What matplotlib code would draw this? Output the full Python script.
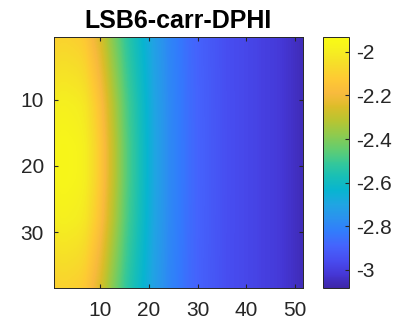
import matplotlib.pyplot as plt
import numpy as np
from matplotlib.colors import LinearSegmentedColormap

plt.rcParams['font.family'] = ['Liberation Sans', 'DejaVu Sans']

# column profile along the middle row (cols 1..51)
col_vals = [-1.97, -1.96, -1.96, -1.965, -1.97, -1.98, -2.0, -2.04, -2.08, -2.13,
            -2.19, -2.26, -2.32, -2.38, -2.44, -2.49, -2.53, -2.57, -2.61, -2.65,
            -2.69, -2.72, -2.75, -2.78, -2.80, -2.82, -2.84, -2.86, -2.875, -2.89,
            -2.90, -2.91, -2.92, -2.93, -2.94, -2.95, -2.955, -2.96, -2.965, -2.97,
            -2.975, -2.98, -2.99, -2.995, -3.0, -3.005, -3.015, -3.025, -3.035, -3.045,
            -3.055]
# how strongly each column feels the row offset
col_weight = [1.0, 1.0, 1.0, 1.0, 1.0, 1.0, 1.0, 1.0, 1.0, 0.95,
              0.9, 0.8, 0.7, 0.6, 0.5, 0.42, 0.35, 0.3, 0.25, 0.2,
              0.17, 0.14, 0.12, 0.1, 0.08, 0.07, 0.06, 0.05, 0.04, 0.03,
              0.03, 0.02, 0.02, 0.02, 0.01, 0.01, 0.01, 0.01, 0.0, 0.0,
              0.0, 0.0, 0.0, 0.0, 0.0, 0.0, 0.0, 0.0, 0.0, 0.0,
              0.0]
# row offsets (rows 1..38)
row_offset = [-0.13, -0.12, -0.11, -0.10, -0.09, -0.08, -0.07, -0.06, -0.05, -0.04,
              -0.03, -0.025, -0.02, -0.015, -0.01, -0.005, -0.002, 0.0, 0.0, 0.0,
              0.0, -0.002, -0.005, -0.01, -0.015, -0.02, -0.025, -0.03, -0.04, -0.05,
              -0.06, -0.07, -0.08, -0.09, -0.10, -0.11, -0.12, -0.13]

x_ticks = [10, 20, 30, 40, 50]
y_ticks = [10, 20, 30]
cb_ticks = [-3, -2.8, -2.6, -2.4, -2.2, -2]
cb_labels = ['-3', '-2.8', '-2.6', '-2.4', '-2.2', '-2']

data = np.array(col_vals)[None, :] + np.array(row_offset)[:, None] * np.array(col_weight)[None, :]

parula = LinearSegmentedColormap.from_list('parula', [
    (0.2422, 0.1504, 0.6603), (0.2706, 0.2147, 0.8364), (0.2813, 0.3006, 0.9414),
    (0.2699, 0.3892, 0.9906), (0.1963, 0.4847, 0.9892), (0.1687, 0.5703, 0.9359),
    (0.1248, 0.6459, 0.8883), (0.0297, 0.7082, 0.8163), (0.0964, 0.7500, 0.7120),
    (0.2161, 0.7843, 0.5923), (0.3909, 0.8029, 0.4354), (0.5616, 0.7942, 0.3045),
    (0.7242, 0.7698, 0.1910), (0.8634, 0.7406, 0.1596), (0.9728, 0.7298, 0.2394),
    (0.9952, 0.7893, 0.2028), (0.9676, 0.8639, 0.1643), (0.9628, 0.9373, 0.1265),
    (0.9769, 0.9839, 0.0805)])

fig = plt.figure(figsize=(3.96, 3.2), dpi=100)
ax = fig.add_axes([53.5/396, 31.7/320, 249/396, 251.6/320])
cax = fig.add_axes([323.3/396, 31.7/320, 26/396, 251.6/320])

im = ax.imshow(data, cmap=parula, vmin=-3.084, vmax=-1.931, aspect='auto',
               extent=[0.5, 51.5, 38.5, 0.5], interpolation='bilinear')
ax.set_xticks(x_ticks)
ax.set_yticks(y_ticks)
ax.tick_params(direction='in', length=3, top=True, right=True, labelsize=15,
               colors='#262626', pad=7)
ax.tick_params(axis='x', pad=9.5)
for s in ax.spines.values():
    s.set_color('#262626')
    s.set_linewidth(0.7)
ax.set_title('LSB6-carr-DPHI', fontsize=18, fontweight='bold', pad=6)

cb = fig.colorbar(im, cax=cax, ticks=cb_ticks)
cb.ax.set_yticklabels(cb_labels)
cb.ax.tick_params(direction='in', length=3, labelsize=15, colors='#262626', pad=5)
cb.outline.set_edgecolor('#262626')
cb.outline.set_linewidth(0.7)

fig.savefig('out.png', dpi=100)
